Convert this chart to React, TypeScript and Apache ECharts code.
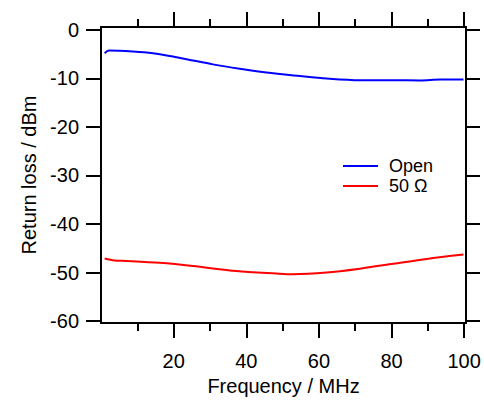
import React, { useEffect, useRef } from "react";
import * as echarts from "echarts";

const openFreq = [1, 2.2, 8.8, 14.3, 19.8, 25.3, 30.8, 38.2, 45.6, 54.8, 62.1, 71.3, 80.5, 87.9, 93.4, 99.8];
const openLoss = [-4.8, -4.25, -4.45, -4.8, -5.47, -6.3, -7.1, -8.0, -8.8, -9.5, -10.0, -10.35, -10.35, -10.4, -10.2, -10.2];
const ohmFreq = [1, 3.7, 7, 16.1, 25.3, 37.3, 48.3, 52.9, 62.1, 71.3, 80.5, 89.7, 99.8];
const ohmLoss = [-47.1, -47.5, -47.6, -48.0, -48.65, -49.7, -50.2, -50.35, -50.0, -49.2, -48.2, -47.2, -46.3];

const xMajor = [20, 40, 60, 80, 100];
const xMinor = [10, 30, 50, 70, 90];
const yMajor = [-60, -50, -40, -30, -20, -10, 0];

const seriesNames = ["Open", "50 Ω"];
const FONT = "Liberation Sans, Arial, sans-serif";

export default function App() {
  const ref = useRef<HTMLDivElement>(null);
  useEffect(() => {
    const chart = echarts.init(ref.current!, null, { renderer: "svg" });
    const xBase = { type: "value", min: 0, max: 100.5, splitLine: { show: false } };
    const lineStyle = { color: "#000", width: 2 };
    chart.setOption({
      animation: false,
      backgroundColor: "#fff",
      grid: { left: 101, top: 27, width: 365, height: 298, containLabel: false },
      legend: {
        left: 343,
        top: 157,
        padding: 0,
        orient: "vertical",
        icon: "path://M0 0H35V2H0Z",
        itemWidth: 35,
        itemHeight: 14,
        itemGap: 2,
        textStyle: { fontFamily: FONT, fontSize: 18, color: "#000", padding: [0, 0, 0, 6] },
        data: seriesNames,
      },
      xAxis: [
        {
          ...xBase,
          position: "bottom",
          axisLine: { show: true, onZero: false, lineStyle },
          axisTick: { show: true, customValues: xMajor, length: 15, lineStyle },
          axisLabel: { show: true, customValues: xMajor, margin: 28, fontFamily: FONT, fontSize: 20, color: "#000" },
          name: "Frequency / MHz",
          nameLocation: "middle",
          nameGap: 53,
          nameTextStyle: { fontFamily: FONT, fontSize: 20, color: "#000" },
        },
        {
          ...xBase,
          position: "bottom",
          axisLine: { show: false, onZero: false },
          axisTick: { show: true, customValues: xMinor, length: 8, lineStyle },
          axisLabel: { show: false },
        },
        {
          ...xBase,
          position: "top",
          axisLine: { show: true, onZero: false, lineStyle },
          axisTick: { show: true, customValues: xMajor, length: 15, lineStyle },
          axisLabel: { show: false },
        },
        {
          ...xBase,
          position: "top",
          axisLine: { show: false, onZero: false },
          axisTick: { show: true, customValues: xMinor, length: 8, lineStyle },
          axisLabel: { show: false },
        },
      ],
      yAxis: [
        {
          type: "value",
          position: "left",
          min: -60.4,
          max: 0.6,
          splitLine: { show: false },
          axisLine: { show: true, onZero: false, lineStyle },
          axisTick: { show: true, customValues: yMajor, length: 15, lineStyle },
          axisLabel: { show: true, customValues: yMajor, margin: 22, fontFamily: FONT, fontSize: 20, color: "#000" },
          name: "Return loss / dBm",
          nameLocation: "middle",
          nameGap: 53,
          nameTextStyle: { fontFamily: FONT, fontSize: 20, color: "#000" },
        },
        {
          type: "value",
          position: "right",
          min: -60.4,
          max: 0.6,
          splitLine: { show: false },
          axisLine: { show: true, onZero: false, lineStyle },
          axisTick: { show: true, customValues: yMajor, length: 14, lineStyle },
          axisLabel: { show: false },
        },
      ],
      series: [
        {
          name: seriesNames[0],
          type: "line",
          xAxisIndex: 0,
          yAxisIndex: 0,
          smooth: 0.3,
          symbol: "none",
          color: "#0000ff",
          lineStyle: { color: "#0000ff", width: 2 },
          data: openFreq.map((f, i) => [f, openLoss[i]]),
        },
        {
          name: seriesNames[1],
          type: "line",
          xAxisIndex: 0,
          yAxisIndex: 0,
          smooth: 0.3,
          symbol: "none",
          color: "#ff0000",
          lineStyle: { color: "#ff0000", width: 2 },
          data: ohmFreq.map((f, i) => [f, ohmLoss[i]]),
        },
      ],
    });
    return () => chart.dispose();
  }, []);
  return <div ref={ref} style={{ width: 484, height: 401, position: "absolute", left: 0, top: 0 }} />;
}
